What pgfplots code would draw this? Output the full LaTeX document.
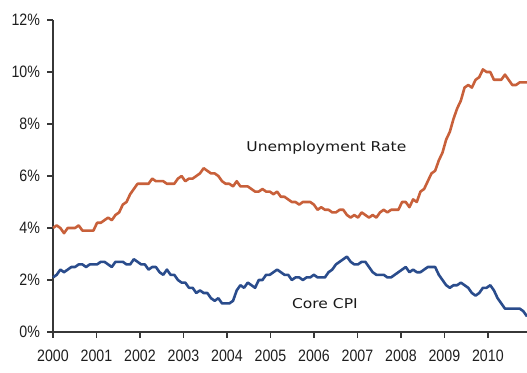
\documentclass[border=0pt]{standalone}
\usepackage{pgfplots}
\pgfplotsset{compat=1.18}
\usepackage{pgfplotstable}
\usepackage{fontspec}
\setmainfont{Liberation Sans}
\newfontfamily\tickfont[FakeStretch=0.86]{Liberation Sans}
\newfontfamily\labfont[FakeStretch=1.15]{DejaVu Sans}
\definecolor{unemp}{RGB}{200,96,58}
\definecolor{cpi}{RGB}{42,76,140}
\definecolor{axisgray}{RGB}{55,55,55}
\definecolor{ticktext}{RGB}{30,30,30}

\pgfplotstableread{
idx unemp cpi
0 4.0 2.1
1 4.1 2.2
2 4.0 2.4
3 3.8 2.3
4 4.0 2.4
5 4.0 2.5
6 4.0 2.5
7 4.1 2.6
8 3.9 2.6
9 3.9 2.5
10 3.9 2.6
11 3.9 2.6
12 4.2 2.6
13 4.2 2.7
14 4.3 2.7
15 4.4 2.6
16 4.3 2.5
17 4.5 2.7
18 4.6 2.7
19 4.9 2.7
20 5.0 2.6
21 5.3 2.6
22 5.5 2.8
23 5.7 2.7
24 5.7 2.6
25 5.7 2.6
26 5.7 2.4
27 5.9 2.5
28 5.8 2.5
29 5.8 2.3
30 5.8 2.2
31 5.7 2.4
32 5.7 2.2
33 5.7 2.2
34 5.9 2.0
35 6.0 1.9
36 5.8 1.9
37 5.9 1.7
38 5.9 1.7
39 6.0 1.5
40 6.1 1.6
41 6.3 1.5
42 6.2 1.5
43 6.1 1.3
44 6.1 1.2
45 6.0 1.3
46 5.8 1.1
47 5.7 1.1
48 5.7 1.1
49 5.6 1.2
50 5.8 1.6
51 5.6 1.8
52 5.6 1.7
53 5.6 1.9
54 5.5 1.8
55 5.4 1.7
56 5.4 2.0
57 5.5 2.0
58 5.4 2.2
59 5.4 2.2
60 5.3 2.3
61 5.4 2.4
62 5.2 2.3
63 5.2 2.2
64 5.1 2.2
65 5.0 2.0
66 5.0 2.1
67 4.9 2.1
68 5.0 2.0
69 5.0 2.1
70 5.0 2.1
71 4.9 2.2
72 4.7 2.1
73 4.8 2.1
74 4.7 2.1
75 4.7 2.3
76 4.6 2.4
77 4.6 2.6
78 4.7 2.7
79 4.7 2.8
80 4.5 2.9
81 4.4 2.7
82 4.5 2.6
83 4.4 2.6
84 4.6 2.7
85 4.5 2.7
86 4.4 2.5
87 4.5 2.3
88 4.4 2.2
89 4.6 2.2
90 4.7 2.2
91 4.6 2.1
92 4.7 2.1
93 4.7 2.2
94 4.7 2.3
95 5.0 2.4
96 5.0 2.5
97 4.8 2.3
98 5.1 2.4
99 5.0 2.3
100 5.4 2.3
101 5.5 2.4
102 5.8 2.5
103 6.1 2.5
104 6.2 2.5
105 6.6 2.2
106 6.9 2.0
107 7.4 1.8
108 7.7 1.7
109 8.2 1.8
110 8.6 1.8
111 8.9 1.9
112 9.4 1.8
113 9.5 1.7
114 9.4 1.5
115 9.7 1.4
116 9.8 1.5
117 10.1 1.7
118 10.0 1.7
119 10.0 1.8
120 9.7 1.6
121 9.7 1.3
122 9.7 1.1
123 9.9 0.9
124 9.7 0.9
125 9.5 0.9
126 9.5 0.9
127 9.6 0.9
128 9.6 0.8
129 9.6 0.6
}\datatable

\begin{document}
\begin{tikzpicture}
\useasboundingbox (-53pt,-40pt) rectangle (474pt,332pt);
\begin{axis}[
  at={(0,0)}, anchor=south west,
  scale only axis,
  width=474pt, height=312pt,
  xmin=0, xmax=129,
  ymin=0, ymax=12,
  axis x line=bottom, axis y line=left,
  axis line style={-, line width=1.8pt, color=axisgray},
  tick align=outside,
  major tick length=5.5pt,
  tick style={line width=1.5pt, color=axisgray},
  xtick={0,11.835,23.670,35.505,47.339,59.174,71.009,82.844,94.679,106.514,118.349},
  xticklabels={2000,2001,2002,2003,2004,2005,2006,2007,2008,2009,2010},
  ytick={0,2,4,6,8,10,12},
  yticklabels={0\%,2\%,4\%,6\%,8\%,10\%,12\%},
  ticklabel style={font=\tickfont\fontsize{16.5}{18}\selectfont, text=ticktext},
  xticklabel style={yshift=-9pt},
  yticklabel style={xshift=-4pt},
  clip=false,
]
\addplot[unemp, line width=2.6pt, line join=round] table[x=idx, y=unemp] {\datatable};
\addplot[cpi, line width=2.6pt, line join=round] table[x=idx, y=cpi] {\datatable};
\node[font=\labfont\fontsize{13.5}{15}\selectfont, text=black!90] at (axis cs:74.4,7.1) {Unemployment Rate};
\node[font=\labfont\fontsize{13.5}{15}\selectfont, text=black!90] at (axis cs:74.0,1.08) {Core CPI};
\end{axis}
\end{tikzpicture}
\end{document}
